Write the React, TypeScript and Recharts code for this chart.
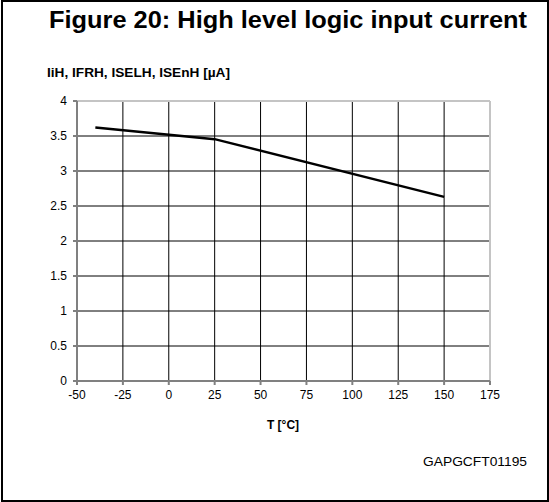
import { LineChart, Line, XAxis, YAxis, CartesianGrid, ReferenceLine } from 'recharts';

const temperatures = [-40, 25, 150];
const currents = [3.62, 3.455, 2.63];

const xTicks = [-50, -25, 0, 25, 50, 75, 100, 125, 150, 175];
const yTicks = [0, 0.5, 1, 1.5, 2, 2.5, 3, 3.5, 4];

const title = 'Figure 20: High level logic input current';
const yTitle = 'IiH, IFRH, ISELH, ISEnH [µA]';
const xTitle = 'T [°C]';
const figureCode = 'GAPGCFT01195';

const chartData = temperatures.map((t, i) => ({ t, current: currents[i] }));

const font = 'Arial, "Liberation Sans", sans-serif';

export default function App() {
  return (
    <div style={{ position: 'absolute', left: 0, top: 0, width: 549, height: 502, background: '#fff', fontFamily: font }}>
      {/* outer frame */}
      <div
        style={{
          position: 'absolute',
          left: 1,
          top: 0,
          width: 548,
          height: 502,
          border: '2px solid #000',
          boxSizing: 'border-box',
        }}
      />
      <div style={{ position: 'absolute', left: 0, top: 0 }}>
        <LineChart width={549} height={502} data={chartData} margin={{ top: 101, right: 59, left: 37, bottom: 91 }}>
          <CartesianGrid stroke="#000" strokeWidth={1} />
          <XAxis
            dataKey="t"
            type="number"
            domain={[-50, 175]}
            ticks={xTicks}
            interval={0}
            height={30}
            tickSize={4}
            tickMargin={5}
            stroke="#808080"
            strokeWidth={2}
            tick={{ fill: '#000', fontSize: 12, fontFamily: font }}
          />
          <YAxis
            type="number"
            domain={[0, 4]}
            ticks={yTicks}
            interval={0}
            width={40}
            tickSize={4}
            tickMargin={6}
            stroke="#808080"
            strokeWidth={2}
            tick={{ fill: '#000', fontSize: 12, fontFamily: font }}
          />
          <ReferenceLine y={4} stroke="#c4c4c4" strokeWidth={2} />
          <ReferenceLine x={175} stroke="#c4c4c4" strokeWidth={2} />
          <Line
            dataKey="current"
            type="linear"
            stroke="#000"
            strokeWidth={2.5}
            dot={false}
            isAnimationActive={false}
          />
        </LineChart>
      </div>
      {/* texts */}
      <svg width={549} height={502} style={{ position: 'absolute', left: 0, top: 0, pointerEvents: 'none' }}>
        <text x={49} y={28} fontSize={23} fontWeight="bold" fontFamily={font} fill="#000" textLength={478} lengthAdjust="spacingAndGlyphs">
          {title}
        </text>
        <text x={47} y={77} fontSize={12.5} fontWeight="bold" fontFamily={font} fill="#000" textLength={183} lengthAdjust="spacingAndGlyphs">
          {yTitle}
        </text>
        <text x={283} y={429} fontSize={12} fontWeight="bold" fontFamily={font} fill="#000" textAnchor="middle">
          {xTitle}
        </text>
        <text x={423} y={466} fontSize={13.5} fontFamily={font} fill="#000" textLength={104} lengthAdjust="spacingAndGlyphs">
          {figureCode}
        </text>
      </svg>
    </div>
  );
}
